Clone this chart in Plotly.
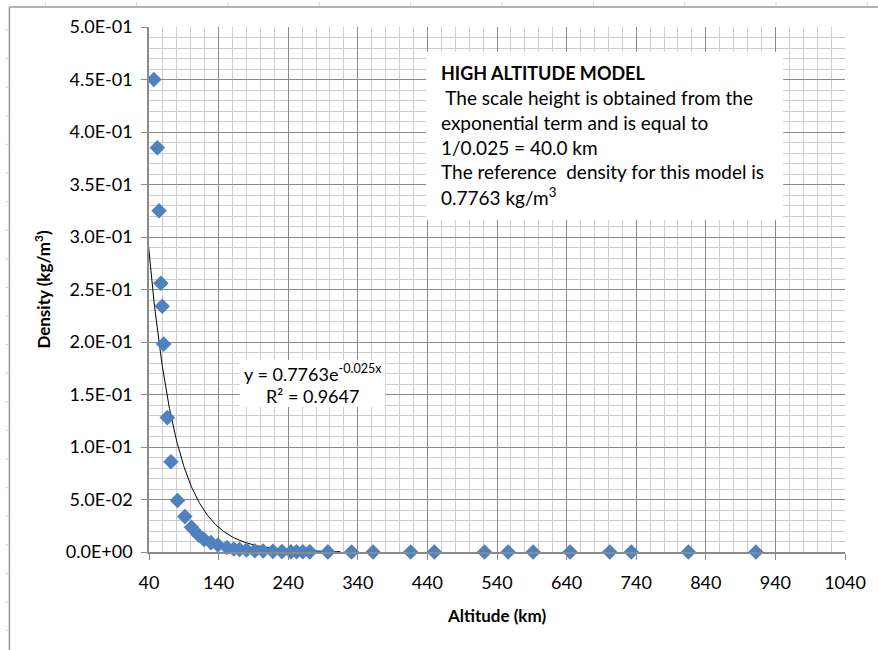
import numpy as np
import plotly.graph_objects as go

# Measured density profile (altitude in km, density in kg/m^3)
altitude_km = [47, 52, 54.5, 57, 59, 61, 66.3, 71.5, 81, 91.5, 101, 111.5, 119, 129,
               139, 152, 162, 170, 180, 192, 204, 218, 231, 244, 252, 261, 271, 297,
               331, 362, 416, 450, 522, 556, 592, 645, 702, 733, 815, 912]
density = [0.450, 0.385, 0.325, 0.256, 0.234, 0.198, 0.128, 0.086, 0.049, 0.0337,
           0.0235, 0.016, 0.012, 0.0089, 0.0067, 0.0043, 0.0029, 0.0025, 0.0019,
           0.0012, 0.0009, 0.0006, 0.0004, 0.0003, 0.00025, 0.0002, 0.00015, 0.0001,
           5e-5, 3e-5, 1e-5, 8e-6, 4e-6, 3e-6, 2e-6, 1e-6, 5e-7, 4e-7, 2e-7, 1e-7]

# Exponential fit y = a * exp(-b x)
fit_a = 0.7763
fit_b = 0.025
fit_r2 = 0.9647
fit_x = np.linspace(38, 315, 300)
fit_y = fit_a * np.exp(-fit_b * fit_x)

x_ticks = [40, 140, 240, 340, 440, 540, 640, 740, 840, 940, 1040]
y_ticks = [0.0, 0.05, 0.10, 0.15, 0.20, 0.25, 0.30, 0.35, 0.40, 0.45, 0.50]
y_tick_labels = ["0.0E+00", "5.0E-02", "1.0E-01", "1.5E-01", "2.0E-01", "2.5E-01",
                 "3.0E-01", "3.5E-01", "4.0E-01", "4.5E-01", "5.0E-01"]

FONT = "Lato, 'Open Sans', sans-serif"
MAJOR = "#8a8a8a"
MINOR = "#cdcdcd"

fig = go.Figure()
fig.add_trace(go.Scatter(
    x=fit_x, y=fit_y, mode="lines",
    line=dict(color="black", width=1), hoverinfo="skip", showlegend=False))
fig.add_trace(go.Scatter(
    x=altitude_km, y=density, mode="markers",
    marker=dict(symbol="diamond", size=12, color="#4F81BD",
                line=dict(width=0)),
    cliponaxis=False, showlegend=False))

W, H = 878, 650
L, R, T, B = 149, 31, 27, 98
pw, ph = W - L - R, H - T - B


def px(xp):
    return (xp - L) / pw


def py(yp):
    return (H - B - yp) / ph


shapes = []
# white text panels over the grid
shapes.append(dict(type="rect", xref="paper", yref="paper",
                   x0=px(427), x1=px(785), y0=py(220), y1=py(52),
                   fillcolor="white", line=dict(width=0), layer="above"))
shapes.append(dict(type="rect", xref="paper", yref="paper",
                   x0=px(240), x1=px(386), y0=py(407), y1=py(360),
                   fillcolor="white", line=dict(width=0), layer="above"))
# chart-area frame (left and top)
shapes.append(dict(type="line", xref="paper", yref="paper",
                   x0=px(9), x1=px(9), y0=py(7), y1=py(660),
                   line=dict(color="#9a9a9a", width=1.5)))
shapes.append(dict(type="line", xref="paper", yref="paper",
                   x0=px(9), x1=px(880), y0=py(7), y1=py(7),
                   line=dict(color="#9a9a9a", width=1.5)))
# sheet grid stubs outside the frame
for yy in np.arange(30, 650, 28.6):
    shapes.append(dict(type="line", xref="paper", yref="paper",
                       x0=px(5), x1=px(8), y0=py(yy), y1=py(yy),
                       line=dict(color="#d4d4d4", width=1)))
for xx in np.arange(45, 878, 91.6):
    shapes.append(dict(type="line", xref="paper", yref="paper",
                       x0=px(xx), x1=px(xx), y0=py(2), y1=py(6),
                       line=dict(color="#d4d4d4", width=1)))

annotations = []
info_lines = [
    "<b>HIGH ALTITUDE MODEL</b>",
    " The scale height is obtained from the",
    "exponential term and is equal to",
    "1/0.025 = 40.0 km",
    "The reference  density for this model is",
    "0.7763 kg/m<sup>3</sup>",
]
for i, txt in enumerate(info_lines):
    annotations.append(dict(
        xref="paper", yref="paper", x=px(440), y=py(73 + 24.7 * i),
        text=txt, showarrow=False, xanchor="left", yanchor="middle",
        font=dict(family=FONT, size=19 if i else 18, color="black")))

annotations.append(dict(
    xref="paper", yref="paper", x=px(313), y=py(373),
    text=f"y = {fit_a}e<sup>-{fit_b}x</sup>", showarrow=False,
    xanchor="center", yanchor="middle",
    font=dict(family=FONT, size=18, color="black")))
annotations.append(dict(
    xref="paper", yref="paper", x=px(313), y=py(396),
    text=f"R² = {fit_r2}", showarrow=False,
    xanchor="center", yanchor="middle",
    font=dict(family=FONT, size=18, color="black")))

fig.update_layout(
    width=W, height=H,
    margin=dict(l=L, r=R, t=T, b=B),
    paper_bgcolor="white", plot_bgcolor="white",
    font=dict(family=FONT, size=18, color="black"),
    shapes=shapes, annotations=annotations,
    xaxis=dict(
        range=[40, 1040], tickvals=x_ticks, ticktext=[str(v) for v in x_ticks],
        showgrid=True, gridcolor=MAJOR, gridwidth=1.3,
        minor=dict(dtick=20, tick0=40, showgrid=True, gridcolor=MINOR, gridwidth=1.3),
        showline=True, linecolor=MAJOR, linewidth=1.5,
        ticks="outside", ticklen=6, tickcolor=MAJOR, tickwidth=1.3,
        ticklabelstandoff=8, zeroline=False,
        title=dict(text="<b>Altitude (km)</b>", standoff=18,
                   font=dict(family=FONT, size=17)),
        tickfont=dict(family=FONT, size=18),
    ),
    yaxis=dict(
        range=[0, 0.5], tickvals=y_ticks, ticktext=y_tick_labels,
        showgrid=True, gridcolor=MAJOR, gridwidth=1.3,
        minor=dict(dtick=0.01, tick0=0, showgrid=True, gridcolor=MINOR, gridwidth=1.3),
        showline=True, linecolor=MAJOR, linewidth=1.5,
        ticks="outside", ticklen=6, tickcolor=MAJOR, tickwidth=1.3,
        ticklabelstandoff=5, zeroline=False,
        title=dict(text="<b>Density (kg/m<sup>3</sup>)</b>", standoff=11,
                   font=dict(family=FONT, size=17)),
        tickfont=dict(family=FONT, size=18),
    ),
)

fig.write_html("out.html")
